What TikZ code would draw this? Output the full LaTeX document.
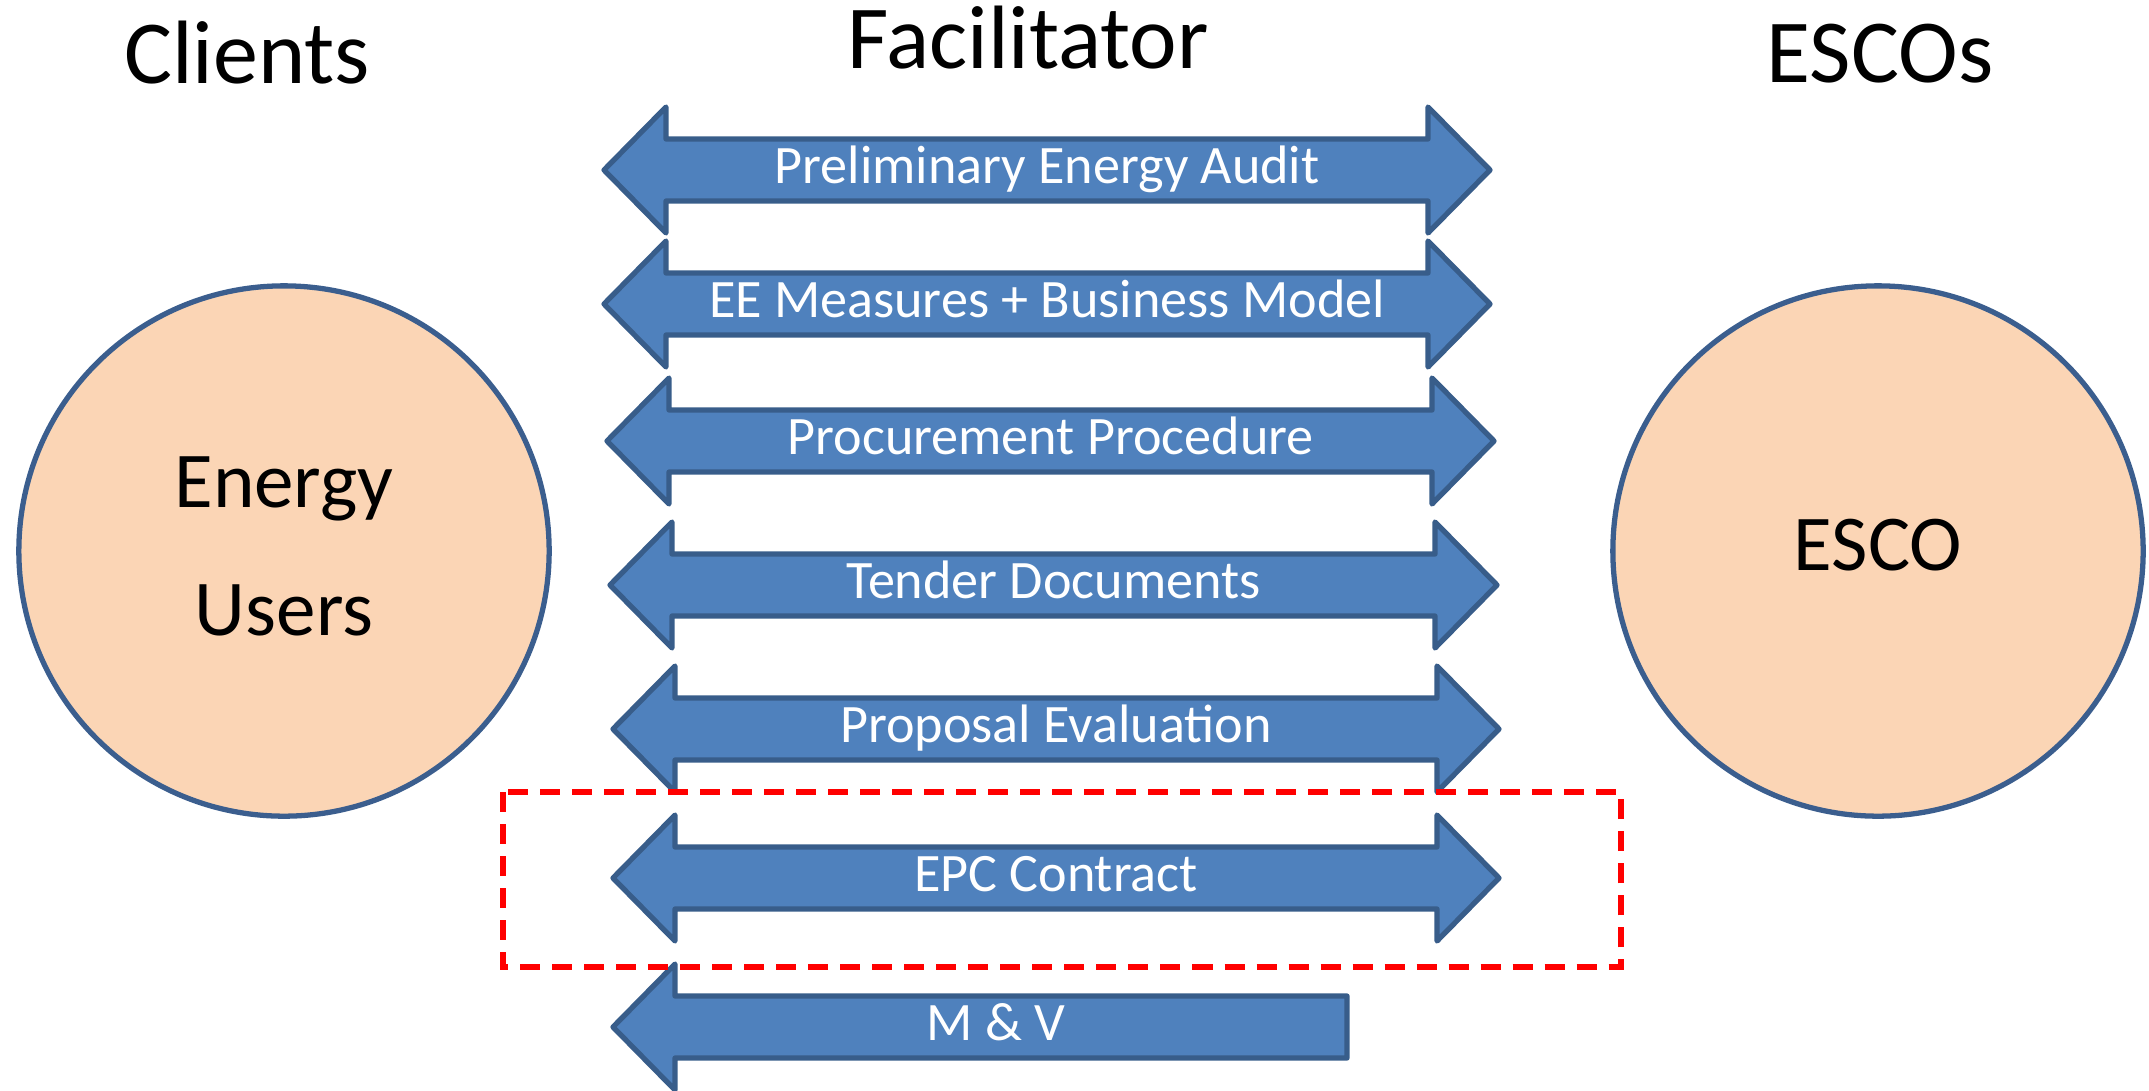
\documentclass[tikz,border=0pt]{standalone}
\usepackage{fontspec}
\setmainfont{Carlito}
\definecolor{arrfill}{HTML}{4F81BD}
\definecolor{arrline}{HTML}{385D8A}
\definecolor{circfill}{HTML}{FBD5B5}
\definecolor{circline}{HTML}{3B5E8E}
\begin{document}
\begin{tikzpicture}[x=0.01cm,y=-0.01cm,
  arrowshape/.style={fill=arrfill,draw=arrline,line width=1.5pt,line join=round},
  arrowtext/.style={text=white,anchor=base,inner sep=0pt,font=\fontsize{15.4}{18}\selectfont},
  header/.style={anchor=base,inner sep=0pt,font=\fontsize{25.6}{30}\selectfont},
  circtext/.style={anchor=base,inner sep=0pt,font=\fontsize{22.5}{27}\selectfont},
  party/.style={circle,fill=circfill,draw=circline,line width=1.5pt,minimum size=5.3cm,inner sep=0pt},
  focusbox/.style={draw=red,line width=1.6pt,dash pattern=on 0.2cm off 0.12cm}]
\useasboundingbox (0,0) rectangle (2149,1090);
% headers
\node[header] (hclients) at (247,83) {Clients};
\node[header] (hfac) at (1028,68) {Facilitator};
\node[header] (hescos) at (1880,82) {ESCOs};
% circles
\node[party] (users) at (284,551) {};
\node[party] (esco) at (1878,551) {};
\node[circtext] (tenergy) at (284,507) {Energy};
\node[circtext] (tusers) at (284,635) {Users};
\node[circtext] (tesco) at (1878,570) {ESCO};
% double arrows: left tip xL, right tip xR, centre y
\def\dblarrow#1#2#3#4#5{%
  \draw[arrowshape] (#1,#3) -- (#1+62,#3-63) -- (#1+62,#3-31) -- (#2-62,#3-31) -- (#2-62,#3-63)
     -- (#2,#3) -- (#2-62,#3+63) -- (#2-62,#3+31) -- (#1+62,#3+31) -- (#1+62,#3+63) -- cycle;
  \node[arrowtext] (#4) at ({(#1+#2)/2},#3+13) {#5};}
\dblarrow{604}{1490}{170}{a1}{Preliminary Energy Audit}
\dblarrow{604}{1490}{304}{a2}{EE Measures + Business Model}
\dblarrow{607}{1494}{441}{a3}{Procurement Procedure}
\dblarrow{610}{1497}{585}{a4}{Tender Documents}
\dblarrow{613}{1499}{729}{a5}{Proposal Evaluation}
\dblarrow{613}{1499}{878}{a6}{EPC Contract}
% single arrow M & V
\draw[arrowshape] (613,1027) -- (675,964) -- (675,996) -- (1347,996) -- (1347,1058)
   -- (675,1058) -- (675,1090) -- cycle;
\node[arrowtext] (a7) at (996,1040) {M \& V};
% dashed focus box
\draw[focusbox] (503,792) rectangle (1621,967);
\end{tikzpicture}
\end{document}
